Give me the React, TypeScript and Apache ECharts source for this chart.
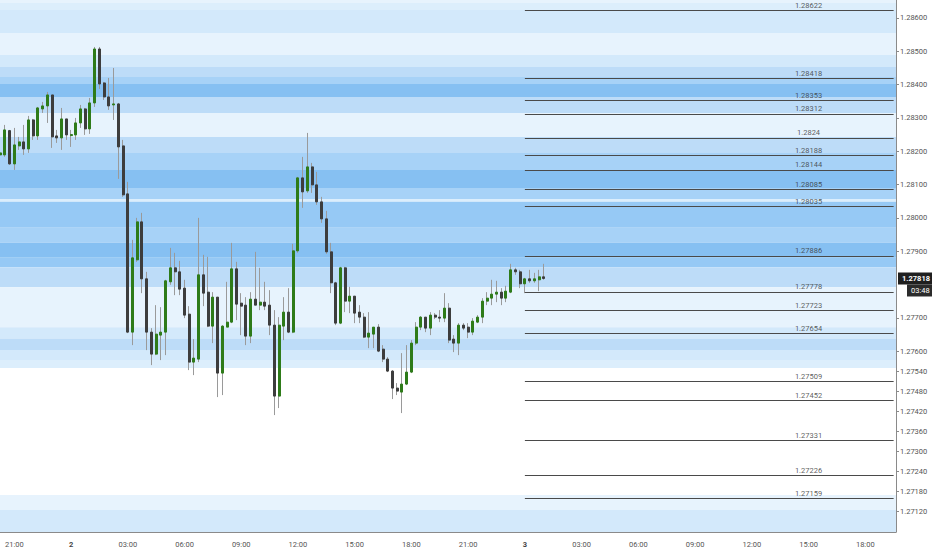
import { useEffect, useRef } from 'react';
import * as echarts from 'echarts';

// 15 minute candles; the first slot is 20:15 on day 1
const startMinute = 20 * 60 + 15;
const slotMinutes = 15;
const slotCount = 190;

// [open, close, low, high]
const ohlc: number[][] = [
    [1.28189, 1.28195, 1.28183, 1.28204],
    [1.28189, 1.28264, 1.28183, 1.28279],
    [1.28262, 1.28162, 1.28159, 1.28264],
    [1.28162, 1.28219, 1.28144, 1.2827],
    [1.28216, 1.28228, 1.28204, 1.28243],
    [1.28228, 1.28207, 1.28189, 1.28279],
    [1.28207, 1.28294, 1.28195, 1.28306],
    [1.28294, 1.28246, 1.28234, 1.28297],
    [1.28246, 1.2833, 1.28234, 1.28333],
    [1.28327, 1.28336, 1.28315, 1.28348],
    [1.28336, 1.28369, 1.28285, 1.28378],
    [1.28369, 1.28243, 1.2821, 1.28369],
    [1.28246, 1.2824, 1.28225, 1.28264],
    [1.2824, 1.28297, 1.28204, 1.2833],
    [1.28297, 1.28249, 1.28234, 1.28297],
    [1.28247, 1.2825, 1.28213, 1.28264],
    [1.28249, 1.28285, 1.28234, 1.283],
    [1.28285, 1.28327, 1.2827, 1.28339],
    [1.28327, 1.28267, 1.28249, 1.2833],
    [1.28267, 1.28345, 1.28252, 1.2836],
    [1.28345, 1.28507, 1.28333, 1.28513],
    [1.28507, 1.28402, 1.28387, 1.28513],
    [1.28405, 1.28363, 1.28354, 1.28408],
    [1.28363, 1.28336, 1.28324, 1.2842],
    [1.28339, 1.28342, 1.28294, 1.2845],
    [1.28342, 1.28213, 1.28117, 1.28345],
    [1.28216, 1.28069, 1.28063, 1.28234],
    [1.28072, 1.27657, 1.27654, 1.28108],
    [1.27657, 1.2788, 1.27618, 1.27934],
    [1.27874, 1.27988, 1.27868, 1.28],
    [1.27988, 1.27817, 1.27774, 1.28015],
    [1.27817, 1.27657, 1.27603, 1.27838],
    [1.27657, 1.27591, 1.27558, 1.27669],
    [1.27591, 1.27651, 1.27588, 1.27738],
    [1.27648, 1.27657, 1.27573, 1.27732],
    [1.27657, 1.27811, 1.27588, 1.27814],
    [1.27808, 1.2785, 1.27799, 1.2791],
    [1.2785, 1.27838, 1.27768, 1.27895],
    [1.27838, 1.27786, 1.27768, 1.27871],
    [1.27789, 1.27708, 1.27699, 1.27814],
    [1.27711, 1.27567, 1.27543, 1.27735],
    [1.27567, 1.27579, 1.27528, 1.27636],
    [1.27576, 1.27829, 1.27567, 1.28],
    [1.27829, 1.27774, 1.27735, 1.27889],
    [1.27777, 1.27675, 1.27672, 1.27883],
    [1.27675, 1.27762, 1.27624, 1.27777],
    [1.27762, 1.27534, 1.27462, 1.27762],
    [1.27534, 1.27675, 1.27468, 1.27678],
    [1.27672, 1.27687, 1.27672, 1.27808],
    [1.27687, 1.27847, 1.27684, 1.27925],
    [1.27847, 1.27741, 1.27693, 1.27868],
    [1.27744, 1.27735, 1.27648, 1.27774],
    [1.27738, 1.27645, 1.27618, 1.27762],
    [1.27645, 1.27756, 1.27624, 1.27777],
    [1.27756, 1.27738, 1.27738, 1.27898],
    [1.27738, 1.27747, 1.27723, 1.2785],
    [1.27747, 1.27735, 1.27723, 1.27808],
    [1.27738, 1.27678, 1.27648, 1.27783],
    [1.27678, 1.27465, 1.27408, 1.27723],
    [1.27465, 1.27678, 1.27429, 1.27702],
    [1.27675, 1.27717, 1.27633, 1.27762],
    [1.27717, 1.27657, 1.27654, 1.27789],
    [1.27657, 1.27901, 1.27654, 1.27922],
    [1.27901, 1.2812, 1.27895, 1.28123],
    [1.2812, 1.28078, 1.2803, 1.28183],
    [1.28081, 1.28153, 1.28075, 1.28255],
    [1.28153, 1.28099, 1.28075, 1.28165],
    [1.28099, 1.28048, 1.28039, 1.28138],
    [1.28048, 1.27997, 1.27985, 1.28063],
    [1.27997, 1.27898, 1.27892, 1.28021],
    [1.27898, 1.27805, 1.27774, 1.27925],
    [1.27805, 1.27684, 1.27678, 1.27808],
    [1.27684, 1.2785, 1.27681, 1.27853],
    [1.2785, 1.2775, 1.27717, 1.27853],
    [1.2775, 1.27765, 1.27714, 1.27793],
    [1.27765, 1.27714, 1.27684, 1.27765],
    [1.27717, 1.27702, 1.27684, 1.27738],
    [1.27702, 1.27642, 1.27639, 1.27714],
    [1.27642, 1.27654, 1.27609, 1.27717],
    [1.27651, 1.27672, 1.27609, 1.27672],
    [1.27672, 1.276, 1.27597, 1.27681],
    [1.27606, 1.27576, 1.27567, 1.27618],
    [1.27576, 1.2754, 1.27537, 1.27582],
    [1.2754, 1.27489, 1.27456, 1.27543],
    [1.27489, 1.2748, 1.27468, 1.27504],
    [1.27477, 1.27501, 1.27414, 1.27594],
    [1.27501, 1.27537, 1.27498, 1.27618],
    [1.27537, 1.27624, 1.27534, 1.27633],
    [1.27624, 1.27672, 1.27618, 1.27687],
    [1.27672, 1.27702, 1.27663, 1.27705],
    [1.27702, 1.27669, 1.27657, 1.27702],
    [1.27669, 1.27708, 1.27648, 1.27717],
    [1.27708, 1.27702, 1.27696, 1.27714],
    [1.27702, 1.27699, 1.27687, 1.27723],
    [1.27699, 1.27729, 1.27687, 1.27774],
    [1.27729, 1.27633, 1.27624, 1.27744],
    [1.27636, 1.27624, 1.27597, 1.27648],
    [1.27624, 1.27678, 1.27588, 1.27684],
    [1.27678, 1.27669, 1.27663, 1.27684],
    [1.27672, 1.27657, 1.27639, 1.27684],
    [1.27657, 1.2769, 1.27648, 1.27699],
    [1.27687, 1.27702, 1.27684, 1.27708],
    [1.27702, 1.2775, 1.27684, 1.27759],
    [1.2775, 1.27759, 1.27738, 1.27777],
    [1.27759, 1.27771, 1.27738, 1.27814],
    [1.27771, 1.27777, 1.27747, 1.27811],
    [1.27777, 1.27759, 1.27738, 1.27789],
    [1.27759, 1.2778, 1.27747, 1.27796],
    [1.27777, 1.27844, 1.27774, 1.27862],
    [1.27844, 1.27838, 1.27829, 1.2785],
    [1.27838, 1.27802, 1.27789, 1.27844],
    [1.27802, 1.27817, 1.27774, 1.2782],
    [1.27817, 1.27811, 1.27805, 1.27844],
    [1.27811, 1.27817, 1.27805, 1.27835],
    [1.27814, 1.27823, 1.2778, 1.27844],
    [1.27823, 1.27818, 1.27814, 1.27862],
];

// horizontal levels drawn from the start of day 3
const levels = [
    1.28622, 1.28418, 1.28353, 1.28312, 1.2824, 1.28188, 1.28144, 1.28085, 1.28035,
    1.27886, 1.27778, 1.27723, 1.27654, 1.27509, 1.27452, 1.27331, 1.27226, 1.27159,
];

const yTicks = [
    1.286, 1.285, 1.284, 1.283, 1.282, 1.281, 1.28, 1.279, 1.277, 1.276,
    1.2754, 1.2748, 1.2742, 1.2736, 1.273, 1.2724, 1.2718, 1.2712,
];

// price zones: [from, to, shade]
const bandRanges: number[][] = [
    [1.28645, 1.28654, 0],
    [1.28624, 1.28645, 6],
    [1.28555, 1.28624, 1],
    [1.28489, 1.28555, 0],
    [1.28453, 1.28489, 1],
    [1.28423, 1.28453, 2],
    [1.28402, 1.28423, 3],
    [1.28363, 1.28402, 5],
    [1.28315, 1.28363, 2],
    [1.28243, 1.28315, 0],
    [1.28195, 1.28243, 2],
    [1.28144, 1.28195, 3],
    [1.2809, 1.28144, 5],
    [1.28057, 1.2809, 3],
    [1.28048, 1.28057, 6],
    [1.2797, 1.28048, 4],
    [1.27925, 1.2797, 3],
    [1.2788, 1.27925, 5],
    [1.27852, 1.2788, 4],
    [1.27792, 1.27852, 2],
    [1.27672, 1.27792, 0],
    [1.27638, 1.27672, 1],
    [1.27603, 1.27638, 2],
    [1.27573, 1.27603, 1],
    [1.27549, 1.27573, 6],
    [1.27123, 1.27168, 0],
    [1.27057, 1.27123, 1],
];

const lastPrice = 1.27818;
const countdown = '03:48';

const Y_MIN = 1.27057;
const Y_MAX = 1.28654;
const LEVEL_START = '3 00:00';
const LEVEL_LABEL_AT = '3 15:00';

const shades = ['#e7f3fd', '#d3e9fb', '#bddcf8', '#a7d2f7', '#96c9f5', '#86c0f2', '#dceefc'];
const UP = '#2e7b19';
const DOWN = '#3d3d3d';
const WICK = '#9a9a9a';
const FONT = 'Roboto';

function slotLabel(i: number) {
    const m = startMinute + i * slotMinutes;
    const day = 1 + Math.floor(m / 1440);
    const hh = Math.floor((m % 1440) / 60);
    const mm = m % 60;
    return `${day} ${String(hh).padStart(2, '0')}:${String(mm).padStart(2, '0')}`;
}

const categories = Array.from({ length: slotCount }, (_, i) => slotLabel(i));

function isThreeHourMark(value: string) {
    const [, t] = value.split(' ');
    const [hh, mm] = t.split(':').map(Number);
    return mm === 0 && hh % 3 === 0;
}

export default function App() {
    const chartRef = useRef<HTMLDivElement>(null);

    useEffect(() => {
        if (!chartRef.current) return;
        document.body.style.margin = '0';
        const chart = echarts.init(chartRef.current, null, { renderer: 'svg' });

        const bodies = ohlc.map(([o, c]) => [o, c, Math.min(o, c), Math.max(o, c)]);
        const lastIdx = categories.length - 1;

        const option: echarts.EChartsOption = {
            animation: false,
            backgroundColor: '#ffffff',
            textStyle: { fontFamily: FONT },
            grid: {
                left: -2.23,
                right: 36,
                top: 0,
                bottom: 18,
                containLabel: false,
                outerBoundsMode: 'none',
            } as any,
            xAxis: {
                type: 'category',
                data: categories,
                boundaryGap: true,
                axisLine: { lineStyle: { color: '#8a8a8a', width: 1 } },
                axisTick: {
                    alignWithLabel: true,
                    length: 3,
                    interval: (_: number, v: string) => isThreeHourMark(v),
                    lineStyle: { color: '#8a8a8a' },
                },
                axisLabel: {
                    interval: (_: number, v: string) => isThreeHourMark(v),
                    fontSize: 7.5,
                    color: '#555',
                    margin: 8,
                    formatter: (v: string) => {
                        const [day, t] = v.split(' ');
                        return t === '00:00' ? `{d|${day}}` : t;
                    },
                    rich: { d: { fontSize: 7.5, fontWeight: 'bold', color: '#444' } },
                },
                splitLine: { show: false },
            },
            yAxis: {
                type: 'value',
                position: 'right',
                min: Y_MIN,
                max: Y_MAX,
                axisLine: { show: true, lineStyle: { color: '#8a8a8a', width: 1 } },
                axisTick: {
                    show: true,
                    length: 3,
                    customValues: yTicks,
                    lineStyle: { color: '#8a8a8a' },
                },
                axisLabel: {
                    customValues: yTicks,
                    formatter: (v: number) => v.toFixed(5),
                    fontSize: 7.5,
                    color: '#555',
                    margin: 4,
                },
                splitLine: { show: false },
            } as any,
            series: [
                {
                    // level labels, level lines and price zones
                    type: 'scatter',
                    z: 1,
                    symbolSize: 0,
                    silent: true,
                    data: levels.map((v) => [LEVEL_LABEL_AT, v]),
                    label: {
                        show: true,
                        position: 'top',
                        distance: 1,
                        fontSize: 7.5,
                        color: '#333',
                        formatter: (p: any) => String(p.value[1]),
                    },
                    markLine: {
                        silent: true,
                        precision: 5,
                        symbol: ['none', 'none'],
                        label: { show: false },
                        lineStyle: { color: '#4a4a4a', width: 1, type: 'solid' },
                        data: levels.map((v) => [
                            { coord: [LEVEL_START, v] },
                            { coord: [categories[lastIdx], v] },
                        ]) as any,
                    },
                    markArea: {
                        silent: true,
                        data: bandRanges.map(([a, b, s]) => [
                            { yAxis: a, itemStyle: { color: shades[s] } },
                            { yAxis: b },
                        ]) as any,
                    },
                },
                {
                    // wicks
                    type: 'candlestick',
                    z: 3,
                    barWidth: 1,
                    silent: true,
                    data: ohlc,
                    itemStyle: {
                        color: WICK,
                        color0: WICK,
                        borderColor: WICK,
                        borderColor0: WICK,
                        borderWidth: 1,
                    },
                },
                {
                    // bodies
                    type: 'candlestick',
                    z: 4,
                    barWidth: 2.5,
                    silent: true,
                    data: bodies,
                    itemStyle: {
                        color: UP,
                        color0: DOWN,
                        borderColor: UP,
                        borderColor0: DOWN,
                        borderWidth: 1,
                    },
                },
                {
                    // last price tag on the price scale
                    type: 'line',
                    z: 6,
                    data: [],
                    silent: true,
                    markLine: {
                        silent: true,
                        precision: 5,
                        symbol: ['none', 'none'],
                        lineStyle: { color: 'rgba(0,0,0,0)', width: 1 },
                        data: [
                            {
                                yAxis: lastPrice,
                                label: {
                                    show: true,
                                    position: 'end',
                                    distance: 2,
                                    formatter: lastPrice.toFixed(5),
                                    backgroundColor: '#1f1f1f',
                                    color: '#fff',
                                    fontSize: 7.5,
                                    fontWeight: 'bold',
                                    padding: [2, 4, 2, 4],
                                },
                            },
                            {
                                yAxis: lastPrice,
                                label: {
                                    show: true,
                                    position: 'end',
                                    distance: 2,
                                    offset: [9, 12],
                                    formatter: countdown,
                                    backgroundColor: '#2b2b2b',
                                    color: '#fff',
                                    fontSize: 7.5,
                                    padding: [2, 4, 2, 4],
                                },
                            },
                        ] as any,
                    },
                },
            ],
        };

        chart.setOption(option, { notMerge: true });

        return () => {
            chart.dispose();
        };
    }, []);

    return (
        <div
            ref={chartRef}
            style={{ position: 'fixed', left: 0, top: 0, width: '932px', height: '550px' }}
        />
    );
}
